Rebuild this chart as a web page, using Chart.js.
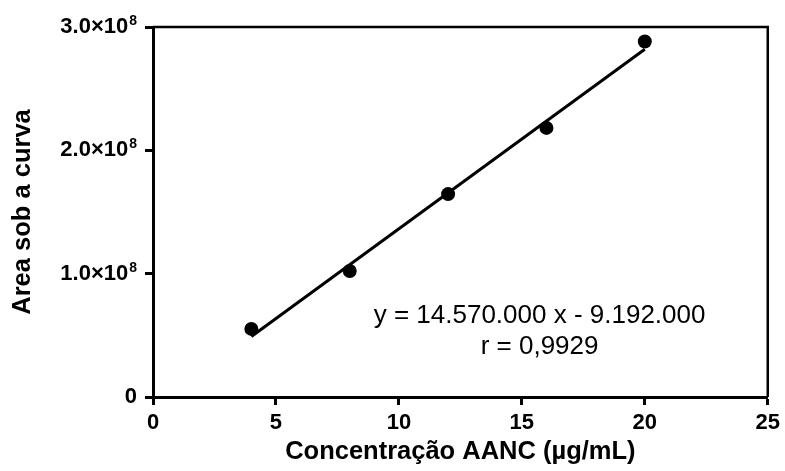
<!DOCTYPE html>
<html>
<head>
<meta charset="utf-8">
<script src="https://cdn.jsdelivr.net/npm/chart.js@4/dist/chart.umd.min.js"></script>
<style>
  html, body { margin: 0; padding: 0; background: #ffffff; }
  #wrap { width: 785px; height: 471px; position: relative; }
</style>
</head>
<body>
<div id="wrap"><canvas id="c" width="785" height="471"></canvas></div>
<script>
// ---- Data ----
const concentrations = [4, 8, 12, 16, 20];                 // µg/mL
const areas = [0.552e8, 1.022e8, 1.645e8, 2.182e8, 2.882e8];
const fitX = [4, 20];
const fitY = [0.49e8, 2.82e8];
const xTicks = [0, 5, 10, 15, 20, 25];
const yTicks = [0, 1e8, 2e8, 3e8];
const yTickMain = ['0', '1.0\u00d710', '2.0\u00d710', '3.0\u00d710'];
const yTickSup = ['', '8', '8', '8'];
const xTitle = 'Concentração AANC (µg/mL)';
const yTitle = 'Area sob a curva';
const noteLines = ['y = 14.570.000 x - 9.192.000', 'r = 0,9929'];
const notePos = { x: 15.72, y: [0.655e8, 0.41e8] };

const FONT = "'Liberation Sans', Arial, Helvetica, sans-serif";

const framePlugin = {
  id: 'frame',
  afterDraw(chart) {
    const { ctx, chartArea: a, scales } = chart;
    ctx.save();
    // top and right frame lines
    ctx.strokeStyle = '#000';
    ctx.lineWidth = 2.5;
    ctx.beginPath();
    ctx.moveTo(a.left, a.top);
    ctx.lineTo(a.right, a.top);
    ctx.lineTo(a.right, a.bottom);
    ctx.stroke();
    // y tick labels with superscript exponent
    ctx.fillStyle = '#000';
    ctx.textBaseline = 'middle';
    ctx.textAlign = 'right';
    const rightEdge = 137;
    yTicks.forEach((v, i) => {
      const py = scales.y.getPixelForValue(v);
      let xr = rightEdge;
      if (yTickSup[i]) {
        ctx.font = 'bold 14px ' + FONT;
        ctx.fillText(yTickSup[i], xr, py - 6);
        xr -= ctx.measureText(yTickSup[i]).width + 1;
      }
      ctx.font = 'bold 22px ' + FONT;
      ctx.fillText(yTickMain[i], xr, py);
    });
    // regression annotation
    ctx.font = '26px ' + FONT;
    ctx.textAlign = 'center';
    noteLines.forEach((t, i) => {
      ctx.fillText(t, scales.x.getPixelForValue(notePos.x), scales.y.getPixelForValue(notePos.y[i]));
    });
    ctx.restore();
  }
};

new Chart(document.getElementById('c'), {
  type: 'scatter',
  data: {
    datasets: [
      {
        label: 'dados',
        data: concentrations.map((x, i) => ({ x, y: areas[i] })),
        backgroundColor: '#000',
        borderColor: '#000',
        borderWidth: 0,
        pointRadius: 7,
        showLine: false
      },
      {
        label: 'ajuste',
        data: fitX.map((x, i) => ({ x, y: fitY[i] })),
        showLine: true,
        borderColor: '#000',
        borderWidth: 3,
        pointRadius: 0,
        fill: false
      }
    ]
  },
  options: {
    responsive: false,
    animation: false,
    devicePixelRatio: 1,
    layout: { padding: { top: 27, right: 15, left: 0, bottom: 0 } },
    plugins: { legend: { display: false }, tooltip: { enabled: false } },
    scales: {
      x: {
        type: 'linear',
        min: 0, max: 25,
        afterBuildTicks(scale) { scale.ticks = xTicks.map(v => ({ value: v })); },
        afterFit(scale) { scale.height = 74; },
        grid: { display: true, drawOnChartArea: false, drawTicks: true, tickLength: 8, tickWidth: 3, tickColor: '#000' },
        border: { display: true, width: 3, color: '#000' },
        ticks: { color: '#000', padding: 5, font: { family: FONT, size: 22, weight: 'bold' } },
        title: { display: true, text: xTitle, color: '#000', padding: { top: 0, bottom: 4 }, font: { family: FONT, size: 25.5, weight: 'bold' } }
      },
      y: {
        type: 'linear',
        min: 0, max: 3e8,
        afterBuildTicks(scale) { scale.ticks = yTicks.map(v => ({ value: v })); },
        afterFit(scale) { scale.width = 153; },
        grid: { display: true, drawOnChartArea: false, drawTicks: true, tickLength: 8, tickWidth: 3, tickColor: '#000' },
        border: { display: true, width: 3, color: '#000' },
        ticks: { display: false },
        title: { display: true, text: yTitle, color: '#000', padding: { top: 8, bottom: 0 }, font: { family: FONT, size: 25.5, weight: 'bold' } }
      }
    }
  },
  plugins: [framePlugin]
});
</script>
</body>
</html>
